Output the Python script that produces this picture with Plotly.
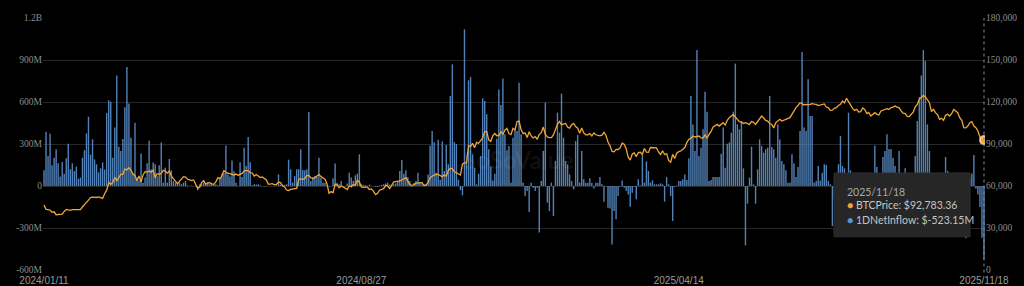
import pandas as pd
import plotly.graph_objects as go

# ---------------- data ----------------
START_DATE = "2024-01-11"
END_DATE = "2025-11-18"
MARKET_HOLIDAYS = ["2024-01-15", "2024-02-19", "2024-03-29", "2024-05-27", "2024-06-19",
                   "2024-07-04", "2024-09-02", "2024-11-28", "2024-12-25", "2025-01-01",
                   "2025-01-09", "2025-01-20", "2025-02-17", "2025-04-18", "2025-05-26",
                   "2025-06-19", "2025-07-04", "2025-09-01"]

TICK_DATES = ["2024/01/11", "2024/08/27", "2025/04/14", "2025/11/18"]
LEFT_TICKS = [-600e6, -300e6, 0, 300e6, 600e6, 900e6, 1.2e9]
LEFT_LABELS = ["-600M", "-300M", "0", "300M", "600M", "900M", "1.2B"]
RIGHT_TICKS = [0, 30000, 60000, 90000, 120000, 150000, 180000]
RIGHT_LABELS = ["0", "30,000", "60,000", "90,000", "120,000", "150,000", "180,000"]

# daily net inflow, millions USD
NET_INFLOW_M = [
    112, 388, 214, 374, 148, 202, 262, 162, 67, 171,
    88, 198, 302, 119, 162, 107, 138, 52, 60, 202,
    255, 376, 495, 224, 333, 190, 155, 98, 126, 169,
    117, 521, 612, 602, 202, 417, 790, 281, 250, 336,
    562, 850, 590, 345, 95, 452, 60, 40, 233, 24,
    60, 162, 324, 119, 167, 155, 67, 148, 310, 24,
    131, 24, 193, 112, 36, 24, 24, 24, 12, 24,
    36, 5, 0, 3, 0, 2, -31, 12, 12, 24,
    10, 24, 12, 18, 8, 12, 5, 60, 88, 93,
    290, 83, 67, 183, 105, 24, 2, 169, 64, 274,
    143, 350, 169, 5, 12, 10, 12, 5, 0, -3,
    2, 0, 1, 0, 0, 3, 83, 10, 5, 8,
    12, 188, 119, 24, 71, 119, 119, 262, 114, 112,
    119, 529, 36, 60, 71, 64, 202, 60, 24, 24,
    0, 2, 0, 55, 160, 24, 12, 36, 0, 1,
    17, 95, 60, 36, 76, 88, 226, 12, 8, 5,
    3, 10, 2, 0, -4, -7, 3, 8, 12, 18,
    24, 10, 5, 12, 20, 36, 107, 186, 88, 112,
    64, 36, -7, 24, 36, 95, 24, 12, 12, 12,
    83, 288, 393, 312, 95, 331, 45, 317, 107, 293,
    155, 643, 869, 314, 300, 45, -31, -67, 1119, 179,
    755, 779, 226, 131, 12, 88, 214, 626, 607, 512,
    262, 140, 40, 88, 340, 690, 579, 767, 369, 255,
    286, 24, 345, 398, 393, 738, 369, 24, -71, -36,
    -186, 24, -12, -36, -12, -333, 36, 250, 595, -119,
    -179, 24, -214, 179, 524, 381, 660, 345, 179, 155,
    83, 36, -24, 321, 364, 24, 250, 48, 24, 24,
    55, 24, -17, 24, 24, 64, 12, -112, -2, -155,
    -160, -417, -179, -238, -71, -5, 40, -12, -36, -60,
    -148, -48, -5, -95, 48, 5, 226, 24, 176, 107,
    24, 40, 12, 12, 12, 19, 12, -112, 64, 12,
    -71, -250, -5, 3, 36, 36, 48, 83, 43, 198,
    643, 440, 250, 971, 214, 274, 405, 674, 531, 36,
    43, 64, 64, 64, 64, 231, 417, 131, 302, 310,
    381, 531, 874, 440, 405, 464, 126, -424, -126, 60,
    281, 12, -126, 119, 333, 286, 238, 262, 274, 643,
    279, 262, 202, 440, 333, 179, 155, 112, 24, 24,
    226, 160, 64, 136, 393, 957, 417, 393, 762, 500,
    500, 24, 36, 143, 40, 95, 155, 150, 36, 12,
    -286, -90, -40, 155, 357, 143, 126, 60, 524, 112,
    40, -120, -60, 30, -80, 20, 50, 70, 40, 30,
    60, 290, 136, 50, 80, 207, 250, 369, 262, 264,
    202, 143, 70, 250, 60, 30, 126, 50, 20, -40,
    50, 214, 464, 636, 790, 971, 893, 440, 250, 60,
    -30, -90, -60, 20, -120, 60, 207, 107, 30, -40,
    20, 60, -80, -150, -200, 30, -374, -100, 60, 90,
    221, -20, -60, -150, -370, -523.15,
]

# BTC price, USD (one value per trading day)
BTC_PRICE = [
    # 2024 Jan
    46400, 43300, 43100, 42700, 41300, 41600, 39500, 39800, 40100, 39900, 41800, 43300, 42900, 42600,
    # Feb
    43100, 43100, 42600, 42700, 43100, 45000, 47100, 48300, 49900, 51800, 52100, 51900, 51800, 52200,
    51700, 51200, 54500, 57000, 62500, 61200,
    # Mar
    62400, 66100, 63800, 66100, 68300, 68300, 72100, 71500, 73100, 71400, 68400, 67600, 63800, 67100,
    62900, 67900, 70200, 69900, 70700, 69900,
    # Apr
    71300, 66000, 68800, 68300, 69000, 71200, 70700, 69200, 70700, 67000, 64800, 63500, 61700, 63600,
    64900, 66700, 66400, 64800, 64300, 63800, 64300, 61200,
    # May
    58300, 59100, 62400, 63800, 61200, 62300, 62400, 61500, 61200, 62900, 66000, 65200, 67100, 71200,
    69500, 69200, 68800, 68500, 67900, 68500, 67600, 68300,
    # Jun
    69000, 70700, 71200, 70800, 69500, 69300, 67100, 68200, 67300, 66000, 66500, 65200, 64300, 61200,
    61700, 61700, 60900, 61200, 62700,
    # Jul
    62400, 60200, 59300, 57100, 56700, 57600, 57900, 58000, 58300, 64800, 65100, 64800, 65200, 67400,
    67600, 65900, 65400, 66000, 67100, 68200, 66800, 66000,
    # Aug
    64800, 61400, 54800, 56000, 55200, 61200, 60800, 58700, 60000, 59400, 58100, 57500, 60000, 59500,
    61000, 60400, 64100, 62900, 59400, 59000, 59400, 59100,
    # Sep
    57500, 57900, 56200, 53900, 54800, 57000, 57600, 58100, 60500, 60000, 58200, 60300, 62900, 63200,
    63300, 63600, 64300, 65200, 65900, 63300,
    # Oct
    60800, 60600, 60800, 62100, 62200, 62100, 62400, 60300, 60600, 62500, 66000, 67000, 67600, 68400,
    68200, 67400, 66700, 68000, 67000, 71000, 72700, 72300, 70200,
    # Nov
    69500, 68800, 67800, 75600, 76500, 76700, 88700, 88300, 90500, 87300, 91100, 90500, 92300, 94300,
    98900, 98900, 93000, 91900, 95900, 97500,
    # Dec
    95900, 96000, 98800, 97000, 99900, 101200, 97400, 96700, 101200, 100000, 106100, 106400, 100200,
    97500, 97800, 94700, 98700, 95800, 94300, 95300, 93400,
    # 2025 Jan
    96900, 98100, 102100, 96900, 95000, 94500, 94500, 96500, 100500, 104100, 106100, 103700, 104400,
    104700, 102100, 101300, 103700, 104700, 102400, 101300,
    # Feb
    97700, 101400, 97900, 96600, 96500, 97400, 95700, 97900, 96600, 96400, 95800, 96300, 98300, 96100,
    91400, 88700, 84700, 84400, 86200,
    # Mar
    86100, 87200, 90600, 89900, 86700, 80600, 78500, 82900, 83700, 81000, 83900, 84100, 82700, 86800,
    84200, 84000, 87500, 87400, 86900, 87200, 84300,
    # Apr
    82500, 85200, 82500, 83100, 78300, 77000, 82600, 79600, 83400, 84500, 85000, 86200, 87500, 91000,
    93400, 94000, 95700, 95000, 95200, 95700, 94300,
    # May
    94200, 96500, 94300, 96900, 99000, 102100, 103200, 104000, 102800, 104000, 105200, 103500, 106900,
    108800, 109700, 111200, 109300, 107800, 106000, 105600, 104600,
    # Jun
    105200, 104700, 104000, 106000, 105500, 104000, 106000, 108800, 110000, 108600, 106900, 106400,
    104600, 104000, 101500, 105200, 106200, 107600, 106400, 106900,
    # Jul
    107600, 108200, 108800, 111200, 113800, 116000, 117500, 119500, 118800, 117900, 118300, 117900,
    118300, 118800, 118500, 118300, 117400, 117900, 117900, 118600, 116400, 115800,
    # Aug
    114000, 114200, 115500, 116000, 117500, 118300, 120700, 119300, 122600, 120000, 117100, 115400,
    114000, 114700, 112900, 113100, 115700, 114700, 111700, 112600, 110000,
    # Sep
    111200, 112400, 111200, 110700, 113600, 114200, 114700, 115300, 114700, 116000, 116400, 117100,
    116400, 115800, 113600, 112000, 111700, 109800, 109600, 111200, 112800,
    # Oct
    116500, 118300, 121900, 123500, 124700, 123600, 121400, 119500, 113200, 114700, 112400, 111000,
    107600, 108400, 106900, 110600, 111200, 110000, 111600, 114700, 113500, 112400, 108800,
    # Nov
    106900, 101700, 101500, 102800, 105200, 106000, 102800, 101600, 99300, 95000, 94200, 92783.36,
]

# ---------------- build ----------------
days = pd.bdate_range(START_DATE, END_DATE, freq="C", holidays=MARKET_HOLIDAYS)
dates = [d.strftime("%Y/%m/%d") for d in days]
n = min(len(dates), len(NET_INFLOW_M), len(BTC_PRICE))
dates = dates[:n]
inflow = [v * 1e6 for v in NET_INFLOW_M[:n]]
price = BTC_PRICE[:n]

BAR_COLOR = "rgba(88,140,198,0.92)"
LINE_COLOR = "#f0a43a"
AXIS_FONT = dict(family="Liberation Serif, DejaVu Serif, serif", size=9.5, color="#8c8c8c")
TIP_FONT = "Lato, Open Sans, sans-serif"

fig = go.Figure()
fig.add_trace(go.Bar(x=dates, y=inflow, name="1DNetInflow", marker=dict(color=BAR_COLOR, line=dict(width=0)),
                     yaxis="y", hoverinfo="skip"))
fig.add_trace(go.Scatter(x=dates, y=price, name="BTCPrice", mode="lines",
                         line=dict(color=LINE_COLOR, width=1.3), yaxis="y2", hoverinfo="skip"))
fig.add_trace(go.Scatter(x=[dates[-1]], y=[price[-1]], mode="markers", yaxis="y2", hoverinfo="skip",
                         marker=dict(size=8, color=LINE_COLOR, line=dict(color="rgba(255,226,180,0.75)", width=2))))

fig.add_shape(type="line", xref="x", yref="paper", x0=dates[-1], x1=dates[-1], y0=-0.01, y1=1,
              line=dict(color="#8a8a8a", width=1, dash="dot"), layer="above")

# watermark
fig.add_annotation(xref="paper", yref="paper", x=0.505, y=0.44, text="<b>SoSoValue</b>", showarrow=False,
                   font=dict(family="Lato, Inter, sans-serif", size=24, color="rgba(255,255,255,0.07)"))
fig.add_annotation(xref="paper", yref="paper", x=0.5, y=0.35, text="sosovalue.com", showarrow=False,
                   font=dict(family="Lato, Inter, sans-serif", size=10, color="rgba(255,255,255,0.06)"))

# tooltip box (opaque panel + three lines)
fig.add_shape(type="rect", xref="paper", yref="paper", x0=0.8397, x1=0.9841, y0=0.132, y1=0.385,
              fillcolor="#262626", line=dict(color="#2f2f2f", width=1), layer="above")
tip_lines = [
    f"{dates[-1]}",
    f"<span style='color:{LINE_COLOR}'>●</span> BTCPrice: ${price[-1]:,.2f}",
    f"<span style='color:#5d93cf'>●</span> 1DNetInflow: ${NET_INFLOW_M[n-1]:.2f}M",
]
tip_y = [0.311, 0.258, 0.198]
tip_colors = ["#a8a8a8", "#c4c4c4", "#c4c4c4"]
for txt, yy, col in zip(tip_lines, tip_y, tip_colors):
    fig.add_annotation(xref="paper", yref="paper", x=0.8515, y=yy, xanchor="left", yanchor="middle",
                       text=txt, showarrow=False, align="left",
                       font=dict(family=TIP_FONT, size=10.5, color=col))

fig.update_layout(
    width=1024, height=286,
    margin=dict(l=43, r=39, t=18, b=16, autoexpand=False),
    paper_bgcolor="#000000", plot_bgcolor="#000000",
    showlegend=False, bargap=0.3,
    xaxis=dict(type="category", range=[-0.5, n - 0.5], tickmode="array", tickvals=TICK_DATES,
               ticktext=TICK_DATES, showgrid=False, zeroline=False, showline=False, ticks="",
               automargin=False, ticklabelstandoff=3,
               tickfont=dict(family="Liberation Sans, Arial, sans-serif", size=10, color="#9a9a9a")),
    yaxis=dict(range=[-600e6, 1.2e9], tickmode="array", tickvals=LEFT_TICKS, ticktext=LEFT_LABELS,
               showgrid=True, gridcolor="#262626", gridwidth=1, zeroline=False, showline=False,
               ticks="", tickfont=AXIS_FONT, automargin=False),
    yaxis2=dict(range=[0, 180000], overlaying="y", side="right", tickmode="array", tickvals=RIGHT_TICKS,
                ticktext=RIGHT_LABELS, showgrid=False, zeroline=False, showline=False, ticks="",
                tickfont=AXIS_FONT, automargin=False),
)

fig.write_html("out.html")
